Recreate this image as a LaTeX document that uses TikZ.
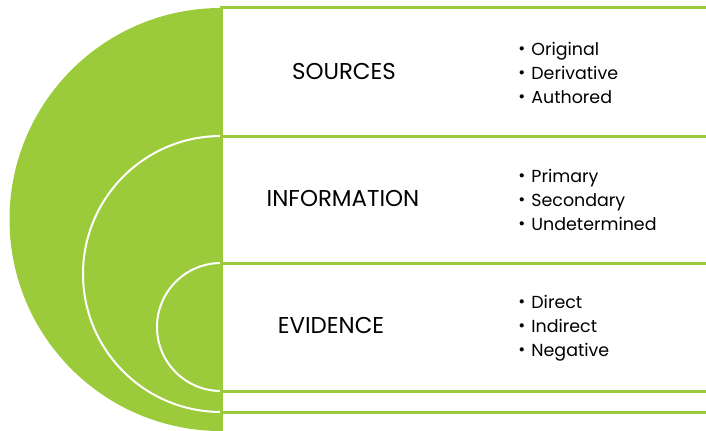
\documentclass[tikz,border=0pt]{standalone}
\usepackage{fontspec}
\setmainfont{Poppins}
\usepackage{tikz}
\usetikzlibrary{positioning}

\definecolor{leafgreen}{RGB}{155,203,59}
\newcommand{\dotitem}{\makebox[13bp][l]{\raisebox{1bp}{\fontsize{17}{17}\selectfont\textbullet}}}

\begin{document}
\begin{tikzpicture}[x=1bp, y=1bp, thick]
    \tikzstyle{band} = [draw=leafgreen, line width=3bp, fill=white]
    \tikzstyle{target} = [draw=white, line width=2bp]
    \tikzstyle{title} = [font=\fontsize{23}{27}\selectfont, inner sep=0pt]
    \tikzstyle{points} = [font=\fontsize{17.5}{24}\selectfont, align=left, inner sep=0pt, anchor=west]

    \useasboundingbox (0,0) rectangle (706,430);

    % outer band with the big half disc
    \fill [leafgreen] (221,422) arc [start angle=90, end angle=270, radius=211.5] -- cycle;
    \draw [band] (221,422) rectangle (730,-6);

    % middle band
    \fill [leafgreen] (221,294) arc [start angle=90, end angle=270, radius=138] -- cycle;
    \draw [target] (221,294) arc [start angle=90, end angle=270, radius=138];
    \draw [band] (221,294) rectangle (730,18);

    % inner band
    \fill [leafgreen] (221,167) arc [start angle=90, end angle=270, radius=64] -- cycle;
    \draw [target] (221,167) arc [start angle=90, end angle=270, radius=64];
    \draw [band] (221,167) rectangle (730,39);

    \node [title] (sources) at (344,359) {SOURCES};
    \node [title] (information) at (343,231) {INFORMATION};
    \node [title] (evidence) at (331,105) {EVIDENCE};

    \node [points] (sourcesList) at (518,357) {\dotitem Original\\ \dotitem Derivative\\ \dotitem Authored};
    \node [points] (informationList) at (518,230) {\dotitem Primary\\ \dotitem Secondary\\ \dotitem Undetermined};
    \node [points] (evidenceList) at (518,102) {\dotitem Direct\\ \dotitem Indirect\\ \dotitem Negative};
\end{tikzpicture}
\end{document}
